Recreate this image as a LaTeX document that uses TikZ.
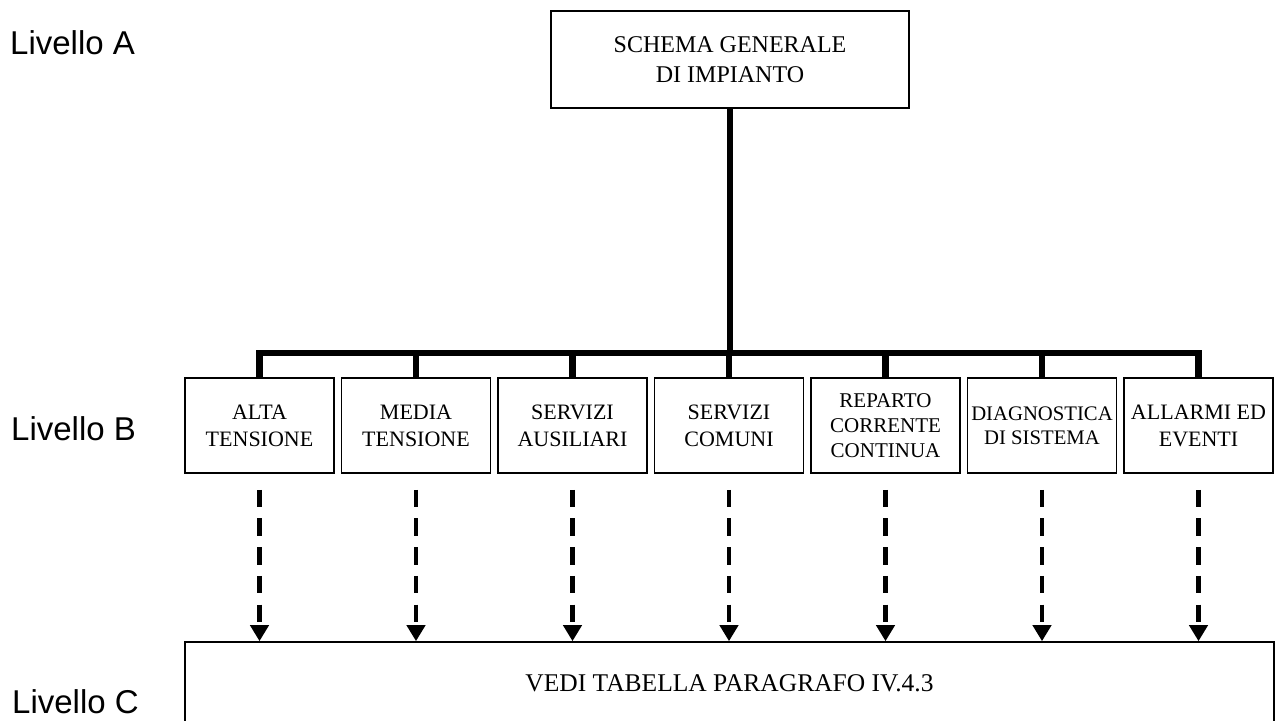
\documentclass[tikz,border=0pt]{standalone}
\usepackage{fontspec}
\setmainfont{Liberation Serif}
\newfontfamily\levelfont{Liberation Sans}
\usetikzlibrary{calc, arrows.meta}

\begin{document}
\begin{tikzpicture}[x = 1pt, y = 1pt,
		box/.style = {draw, line width = 1.6pt, inner sep = 0pt, align = center, minimum width = 149pt, minimum height = 95pt},
		trunk/.style = {line width = 6.5pt},
		ref/.style = {line width = 4.5pt, dash pattern = on 17.5pt off 11.2pt, -{Triangle[width = 18pt, length = 16pt]}},
		level/.style = {anchor = base west, inner sep = 0pt, font = \levelfont\fontsize{33}{33}\selectfont}]
			
			\useasboundingbox (0,0) rectangle (1276,720);
			\clip (0,0) rectangle (1276,720);
			
			\coordinate (busline) at (730, 367);
			
			\node [box, minimum width = 358pt, minimum height = 97pt, font = \fontsize{24}{30}\selectfont] (schema) at (730, 660.5) {SCHEMA GENERALE\\DI IMPIANTO};
			
			\foreach \name/\fs/\ls/\txt [count = \i from 0] in {alta/22/27/ALTA\\TENSIONE, media/22/27/MEDIA\\TENSIONE, ausiliari/22/27/SERVIZI\\AUSILIARI, comuni/22/27/SERVIZI\\COMUNI, corrente/21/25/REPARTO\\CORRENTE\\CONTINUA, diagnostica/20.7/24/DIAGNOSTICA\\DI SISTEMA, allarmi/22/27/ALLARMI ED\\EVENTI}
				\node [box, font = \fontsize{\fs}{\ls}\selectfont] (\name) at (259.5 + 156.5*\i, 294.5) {\txt};
			
			\node [box, minimum width = 1089pt, minimum height = 82pt, font = \fontsize{25.5}{28}\selectfont] (vedi) at (729.5, 37) {VEDI TABELLA PARAGRAFO IV.4.3};
			
			\draw [trunk] (schema.south) -- (schema.south |- busline);
			\draw [trunk] (alta.north) -- (alta.north |- busline) -- (allarmi.north |- busline) -- (allarmi.north);
			\foreach \name in {media, ausiliari, comuni, corrente, diagnostica}
				\draw [trunk] (\name.north) -- (\name.north |- busline);
			
			\foreach \name in {alta, media, ausiliari, comuni, corrente, diagnostica, allarmi}
				\draw [ref] ([yshift = -16pt]\name.south) -- (\name.south |- vedi.north);
			
			\node [level] (livA) at (10, 665) {Livello A};
			\node [level] (livB) at (11, 279) {Livello B};
			\node [level] (livC) at (12, 7) {Livello C};
			
		\end{tikzpicture}
\end{document}
